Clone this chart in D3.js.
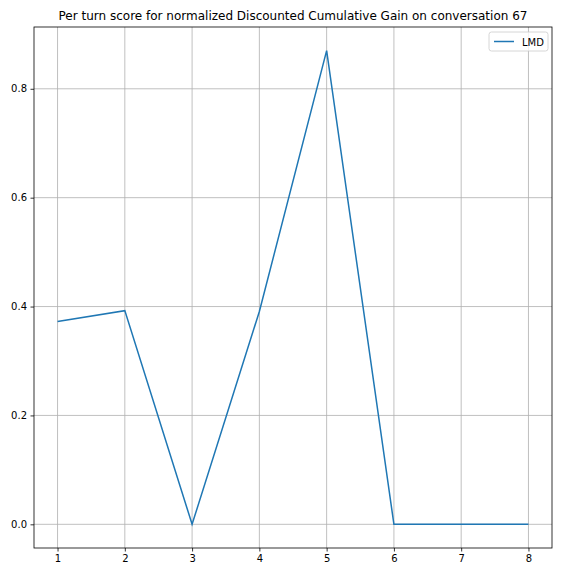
<!DOCTYPE html>
<html><head><meta charset="utf-8">
<script src="https://cdn.jsdelivr.net/npm/d3@7"></script>
<style>body{margin:0;background:#fff}svg{display:block;font-family:"DejaVu Sans",sans-serif}</style>
</head><body>
<script>
const turns = [1, 2, 3, 4, 5, 6, 7, 8];
const ndcg = [0.3725, 0.3925, 0.0, 0.391, 0.870, 0.0, 0.0, 0.0];
const yTicks = [0.0, 0.2, 0.4, 0.6, 0.8];
const seriesName = "LMD";
const title = "Per turn score for normalized Discounted Cumulative Gain on conversation 67";

const W = 576, H = 576;
const m = {l: 34, r: 24, t: 27, b: 28};
const svg = d3.select("body").append("svg").attr("width", W).attr("height", H);
const x = d3.scaleLinear().domain([0.65, 8.35]).range([m.l, W - m.r]);
const y = d3.scaleLinear().domain([-0.0435, 0.9135]).range([H - m.b, m.t]);

// grid
svg.append("g").selectAll("line").data(turns).join("line")
  .attr("x1", d => x(d)).attr("x2", d => x(d)).attr("y1", m.t).attr("y2", H - m.b)
  .attr("stroke", "#b0b0b0").attr("stroke-width", 0.8);
svg.append("g").selectAll("line").data(yTicks).join("line")
  .attr("y1", d => y(d)).attr("y2", d => y(d)).attr("x1", m.l).attr("x2", W - m.r)
  .attr("stroke", "#b0b0b0").attr("stroke-width", 0.8);

// axes
const xa = svg.append("g").attr("transform", `translate(0,${H - m.b})`)
  .call(d3.axisBottom(x).tickValues(turns).tickFormat(d3.format("d")).tickSize(3.5).tickPadding(3.5));
const ya = svg.append("g").attr("transform", `translate(${m.l},0)`)
  .call(d3.axisLeft(y).tickValues(yTicks).tickFormat(d3.format(".1f")).tickSize(3.5).tickPadding(3.5));
[xa, ya].forEach(a => {
  a.selectAll("text").attr("font-size", 10).attr("fill", "#000").attr("font-family", "DejaVu Sans");
  a.selectAll(".tick line").attr("stroke", "#000").attr("stroke-width", 0.8);
  a.select(".domain").remove();
});
svg.append("rect").attr("x", m.l).attr("y", m.t).attr("width", W - m.l - m.r).attr("height", H - m.t - m.b)
  .attr("fill", "none").attr("stroke", "#000").attr("stroke-width", 0.8);

// line
svg.append("path").datum(turns.map((t, i) => [t, ndcg[i]]))
  .attr("d", d3.line().x(d => x(d[0])).y(d => y(d[1])))
  .attr("fill", "none").attr("stroke", "#1f77b4").attr("stroke-width", 1.5);

// title
svg.append("text").attr("x", (m.l + W - m.r) / 2).attr("y", m.t - 7).attr("text-anchor", "middle")
  .attr("font-size", 12).text(title);

// legend
const lg = svg.append("g").attr("transform", `translate(${W - m.r - 63},${m.t + 5})`);
lg.append("rect").attr("width", 59).attr("height", 19).attr("rx", 2.5)
  .attr("fill", "#fff").attr("fill-opacity", 0.8).attr("stroke", "#cccccc").attr("stroke-width", 0.8);
lg.append("line").attr("x1", 5).attr("x2", 25).attr("y1", 9.5).attr("y2", 9.5)
  .attr("stroke", "#1f77b4").attr("stroke-width", 1.5);
lg.append("text").attr("x", 33).attr("y", 13.5).attr("font-size", 10).text(seriesName);
</script>
</body></html>
